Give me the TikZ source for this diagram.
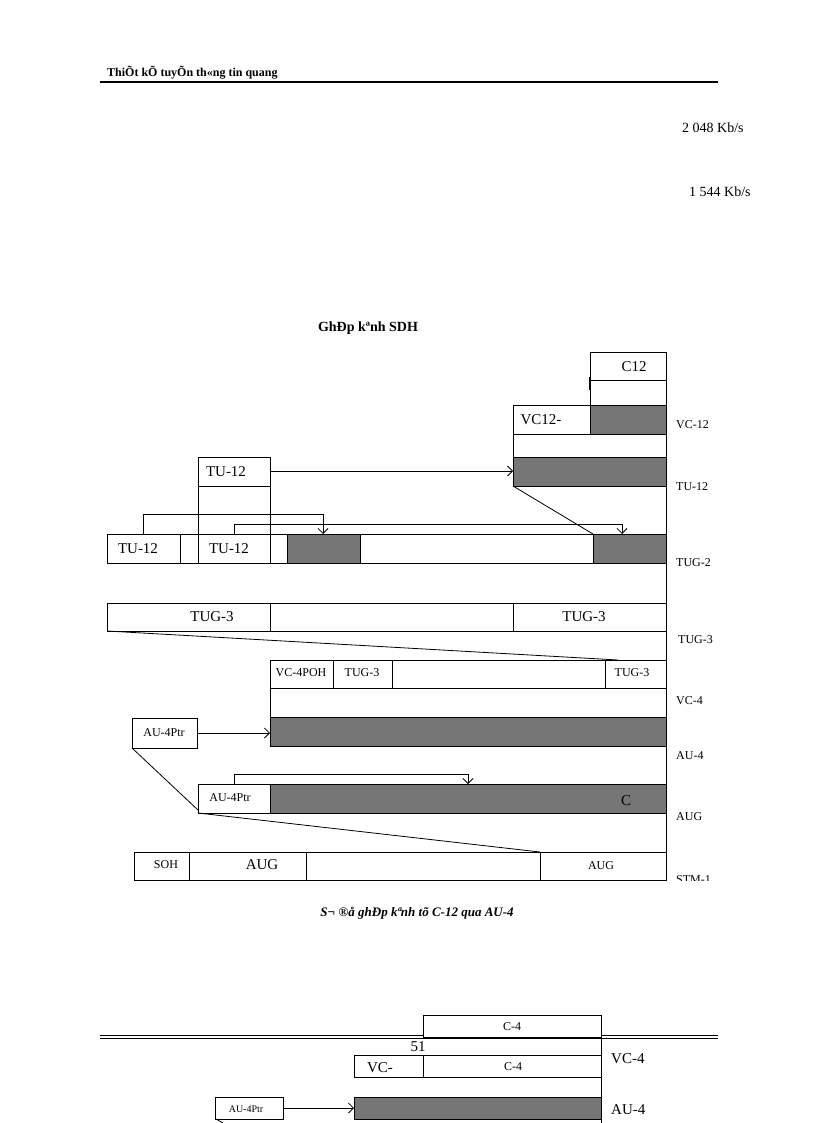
\documentclass[tikz,border=0pt]{standalone}
\usepackage{fontspec}
\setmainfont{Liberation Serif}
\usetikzlibrary{arrows.meta}
\definecolor{shd}{RGB}{118,118,118}
\begin{document}
\begin{tikzpicture}[x=1pt,y=-1pt,
 bx/.style={draw,line width=0.8pt,fill=white},
 sh/.style={draw,line width=0.8pt,fill=shd},
 ln/.style={line width=0.8pt},
 ar/.style={line width=0.8pt,-{Straight Barb[length=5pt]}},
 lb/.style={font=\fontsize{12}{12}\selectfont,anchor=west,inner sep=0pt},
 tx/.style={font=\fontsize{15}{15}\selectfont,inner sep=0pt},
 st/.style={font=\fontsize{12}{12}\selectfont,inner sep=0pt}]
\useasboundingbox (0,0) rectangle (816,1123);
% header
\node[anchor=west,inner sep=0pt,font=\bfseries\fontsize{12}{12}\selectfont] (hd) at (107,73) {ThiÕt kÕ tuyÕn th«ng tin quang};
\draw[line width=1.2pt] (100,82) -- (718,82);
\node[anchor=west,inner sep=0pt,font=\fontsize{14}{14}\selectfont] (r1) at (682,128) {2 048 Kb/s};
\node[anchor=west,inner sep=0pt,font=\fontsize{14}{14}\selectfont] (r2) at (689,192) {1 544 Kb/s};
\node[inner sep=0pt,font=\bfseries\fontsize{14}{14}\selectfont] (ti) at (368,328) {GhÐp kªnh SDH};
% vertical axis
\draw[ln] (666,352) -- (666,880);
% C12 / VC12
\node[bx,minimum width=76pt,minimum height=28pt,anchor=north west] (c12) at (590,352) {};
\node[tx] at (634,367) {C12};
\draw[ln] (590,380) -- (590,405);
\draw[line width=1.5pt] (590,377) -- (590,390);
\draw[bx] (513,405) rectangle (590,434);
\node[tx] (vc12) at (541,420) {VC12-};
\draw[sh] (590,405) rectangle (666,434);
\draw[bx] (513,434) rectangle (666,457);
\draw[sh] (513,457) rectangle (666,486);
\coordinate (tuR) at (513,471);
\node[lb] (lvc12) at (676,425) {VC-12};
\node[lb] (ltu12) at (676,487) {TU-12};
% TU-12 upper
\draw[bx] (198,486) rectangle (270,563);
\node[bx,minimum width=72pt,minimum height=29pt,anchor=north west] (tuA) at (198,457) {};
\node[tx] at (226,472) {TU-12};
\draw[ar] (270,471) -- (tuR);
\draw[ln] (513,486) -- (593,534);
% TUG-2 row
\draw[bx] (107,534) rectangle (180,563);
\node[tx] (t1) at (138,549) {TU-12};
\draw[bx] (180,534) rectangle (198,563);
\draw[bx] (198,534) rectangle (270,563);
\node[tx] (t2) at (229,549) {TU-12};
\draw[bx] (270,534) rectangle (287,563);
\draw[sh] (287,534) rectangle (360,563);
\draw[bx] (360,534) rectangle (593,563);
\draw[sh] (593,534) rectangle (666,563);
\draw[ar] (143,534) -- (143,514) -- (323,514) -- (323,534);
\draw[ar] (234,534) -- (234,524) -- (622,524) -- (622,534);
\node[lb] (ltug2) at (676,563) {TUG-2};
% TUG-3 row
\draw[bx] (107,603) rectangle (270,631);
\node[tx] at (212,617) {TUG-3};
\draw[bx] (270,603) rectangle (513,631);
\draw[bx] (513,603) rectangle (666,631);
\node[tx] at (584,617) {TUG-3};
\node[lb] (ltug3) at (678,640) {TUG-3};
\draw[ln] (107,631) -- (618,660);
% VC-4 row
\draw[bx] (270,660) rectangle (333,688);
\node[st] at (301,673) {VC-4POH};
\draw[bx] (333,660) rectangle (392,688);
\node[st] at (362,673) {TUG-3};
\draw[bx] (392,660) rectangle (605,688);
\draw[bx] (605,660) rectangle (666,688);
\node[st] at (632,673) {TUG-3};
\draw[bx] (270,688) rectangle (666,717);
\draw[sh] (270,717) rectangle (666,746);
\node[lb] (lvc4) at (676,701) {VC-4};
\node[lb] (lau4) at (676,756) {AU-4};
\node[bx,minimum width=65pt,minimum height=30pt,anchor=north west] (ptr) at (132,718) {};
\node[st] at (164,733) {AU-4Ptr};
\draw[ar] (197,733) -- (270,733);
\draw[ln] (132,748) -- (198,810);
% AUG row
\draw[bx] (198,784) rectangle (270,813);
\node[st] (ptr2) at (230,798) {AU-4Ptr};
\draw[sh] (270,784) rectangle (666,813);
\node[tx] at (626,801) {C};
\draw[ar] (234,784) -- (234,774) -- (468,774) -- (468,784);
\node[lb] (laug) at (676,817) {AUG};
\draw[ln] (198,813) -- (540,852);
% STM row
\draw[bx] (134,852) rectangle (189,880);
\node[st] at (166,865) {SOH};
\draw[bx] (189,852) rectangle (306,880);
\node[tx] at (262,865) {AUG};
\draw[bx] (306,852) rectangle (540,880);
\draw[bx] (540,852) rectangle (666,880);
\node[st] at (601,866) {AUG};
\begin{scope}
\clip (670,872) rectangle (720,880);
\node[lb] at (676,880) {STM-1};
\end{scope}
\node[inner sep=0pt,font=\bfseries\itshape\fontsize{13}{13}\selectfont] (cap) at (417,913) {S¬ ®å ghÐp kªnh tõ C-12 qua AU-4};
% footer region
\draw[ln] (100,1035) -- (718,1035);
\draw[ln] (100,1038) -- (718,1038);
\draw[bx] (423,1015) rectangle (601,1038);
\node[st] at (512,1027) {C-4};
\draw[line width=1.6pt] (423,1038) -- (601,1038);
\node[tx] (p51) at (418,1047) {51};
\draw[ln] (601,1038) -- (601,1123);
\draw[bx] (354,1055) rectangle (423,1077);
\node[tx] at (380,1068) {VC-};
\draw[bx] (423,1055) rectangle (601,1077);
\node[st] at (513,1067) {C-4};
\node[anchor=west,inner sep=0pt,font=\fontsize{15}{15}\selectfont] (lvc4b) at (611,1059) {VC-4};
\node[bx,minimum width=68pt,minimum height=22pt,anchor=north west] (ptr3) at (215,1097) {};
\node[font=\fontsize{10}{10}\selectfont,inner sep=0pt] at (246,1109) {AU-4Ptr};
\draw[ar] (283,1108) -- (354,1108);
\draw[sh] (354,1097) rectangle (601,1119);
\node[anchor=west,inner sep=0pt,font=\fontsize{15}{15}\selectfont] (lau4b) at (611,1110) {AU-4};
\draw[ln] (216,1119) -- (223,1123);
\end{tikzpicture}
\end{document}
